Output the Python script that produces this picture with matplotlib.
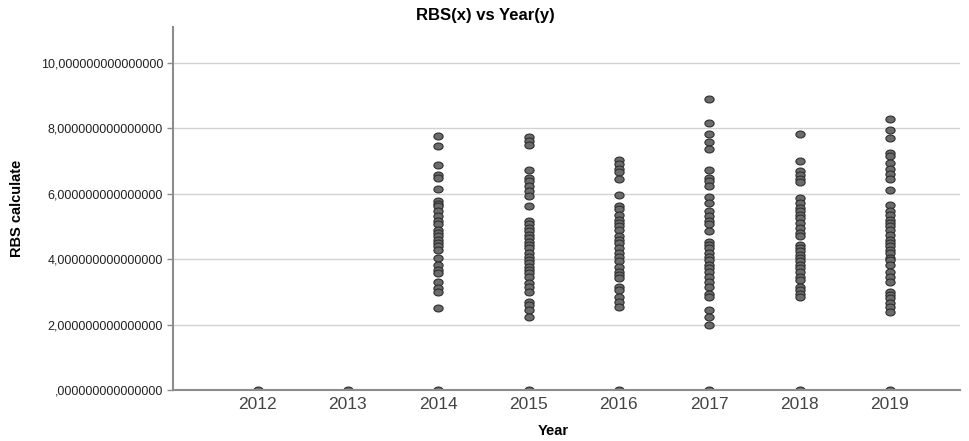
import matplotlib
matplotlib.use("Agg")
import matplotlib.pyplot as plt
from matplotlib.path import Path
from matplotlib.ticker import FuncFormatter
import numpy as np

plt.rcParams["font.family"] = ["Liberation Sans", "DejaVu Sans"]

# RBS values per year (every year also has a 0 value)
years = [2012, 2013, 2014, 2015, 2016, 2017, 2018, 2019]
rbs_2012 = [0.0]
rbs_2013 = [0.0]
rbs_2014 = [0.0, 7.77, 7.45, 6.87, 6.56, 6.49, 6.13, 5.77, 5.70, 5.62, 5.47, 5.33, 5.16,
            5.06, 4.90, 4.80, 4.70, 4.59, 4.49, 4.39, 4.29, 4.03, 3.83, 3.67, 3.57,
            3.29, 3.11, 3.01, 2.52]
rbs_2015 = [0.0, 7.74, 7.62, 7.49, 6.73, 6.49, 6.39, 6.24, 6.08, 5.93, 5.62, 5.16, 5.06,
            4.95, 4.85, 4.75, 4.65, 4.54, 4.44, 4.34, 4.18, 4.08, 3.98, 3.88, 3.77,
            3.67, 3.57, 3.47, 3.26, 3.16, 3.01, 2.70, 2.59, 2.44, 2.24]
rbs_2016 = [0.0, 7.04, 6.90, 6.77, 6.65, 6.46, 5.95, 5.62, 5.52, 5.36, 5.21, 5.11, 5.01,
            4.90, 4.70, 4.59, 4.49, 4.34, 4.18, 4.08, 3.93, 3.77, 3.62, 3.52, 3.42,
            3.16, 3.06, 2.85, 2.70, 2.54]
rbs_2017 = [0.0, 8.90, 8.16, 7.83, 7.59, 7.38, 6.73, 6.49, 6.39, 6.24, 5.91, 5.72, 5.47,
            5.31, 5.16, 5.06, 4.85, 4.54, 4.44, 4.34, 4.18, 4.08, 3.98, 3.83, 3.72,
            3.62, 3.47, 3.31, 3.16, 2.95, 2.85, 2.44, 2.24, 1.98]
rbs_2018 = [0.0, 7.83, 7.01, 6.70, 6.56, 6.44, 6.36, 5.88, 5.72, 5.57, 5.47, 5.36, 5.26,
            5.11, 4.95, 4.80, 4.70, 4.44, 4.34, 4.24, 4.13, 4.03, 3.93, 3.83, 3.72,
            3.62, 3.47, 3.36, 3.16, 3.06, 2.95, 2.83]
rbs_2019 = [0.0, 8.27, 7.96, 7.70, 7.24, 7.16, 6.93, 6.75, 6.59, 6.44, 6.10, 5.65, 5.47,
            5.36, 5.21, 5.11, 5.01, 4.90, 4.75, 4.59, 4.49, 4.39, 4.29, 4.18, 4.03,
            3.96, 3.83, 3.62, 3.47, 3.31, 3.01, 2.90, 2.80, 2.65, 2.54, 2.39]
rbs_by_year = [rbs_2012, rbs_2013, rbs_2014, rbs_2015, rbs_2016, rbs_2017, rbs_2018, rbs_2019]
y_ticks = [0, 2, 4, 6, 8, 10]


def spss_fmt(v, pos):
    s = f"{v:.15f}".replace(".", ",")
    if s.startswith("0,"):
        s = s[1:]
    return s


# slightly flattened circle, like the SPSS markers
theta = np.linspace(0, 2 * np.pi, 40)
ellipse = Path(np.column_stack([np.cos(theta), 0.75 * np.sin(theta)]), closed=True)

fig = plt.figure(figsize=(9.7, 4.41), dpi=100)
ax = fig.add_axes([0.178, 0.1156, 0.812, 0.8234])

for yr, vals in zip(years, rbs_by_year):
    ax.scatter([yr] * len(vals), vals, marker=ellipse, s=44, facecolor="#6b6b6b",
               edgecolor="#2e2e2e", linewidth=0.8, zorder=3, clip_on=True)

ax.set_xlim(2011.06, 2019.78)
ax.set_ylim(0, 11.1)
ax.set_xticks(years)
ax.set_yticks(y_ticks)
ax.yaxis.set_major_formatter(FuncFormatter(spss_fmt))
ax.grid(axis="y", color="#d2d2d2", linewidth=1.0, zorder=0)
ax.set_axisbelow(True)

for side in ["top", "right"]:
    ax.spines[side].set_visible(False)
for side in ["left", "bottom"]:
    ax.spines[side].set_color("#8c8c8c")
    ax.spines[side].set_linewidth(1.5)
    ax.spines[side].set_zorder(4)

ax.tick_params(axis="y", length=4, width=1, color="#8c8c8c", labelsize=9,
               labelcolor="#222222", pad=3)
ax.tick_params(axis="x", length=0, labelsize=12.5, labelcolor="#444444", pad=5)

fig.text(0.5, 0.964, "RBS(x) vs Year(y)", ha="center", va="center",
         fontsize=12, fontweight="bold")
fig.text(0.570, 0.022, "Year", ha="center", va="center", fontsize=10.5, fontweight="bold")
fig.text(0.018, 0.528, "RBS calculate", ha="center", va="center", rotation=90,
         fontsize=10.5, fontweight="bold")

fig.savefig("out.png", dpi=100)
